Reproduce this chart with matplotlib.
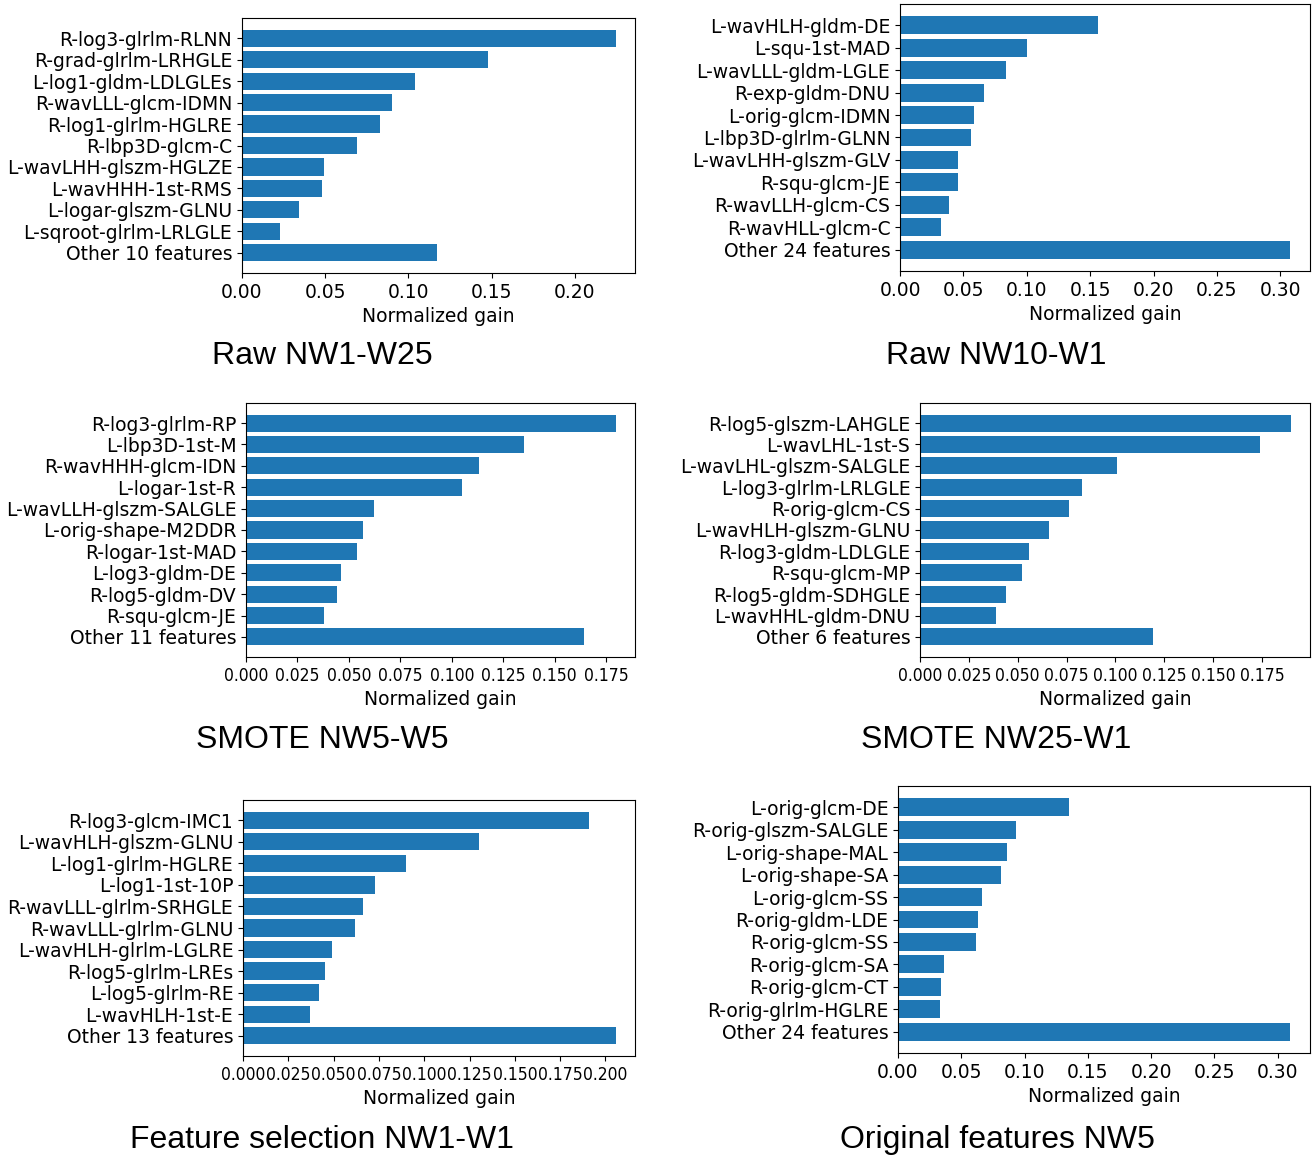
import matplotlib
matplotlib.use("Agg")
import matplotlib.pyplot as plt
from matplotlib import font_manager
from matplotlib.ticker import MultipleLocator

# feature importance (normalized gain), top-to-bottom order
raw1_labels = ["R-log3-glrlm-RLNN", "R-grad-glrlm-LRHGLE", "L-log1-gldm-LDLGLEs",
               "R-wavLLL-glcm-IDMN", "R-log1-glrlm-HGLRE", "R-lbp3D-glcm-C",
               "L-wavLHH-glszm-HGLZE", "L-wavHHH-1st-RMS", "L-logar-glszm-GLNU",
               "L-sqroot-glrlm-LRLGLE", "Other 10 features"]
raw1_gain = [0.225, 0.148, 0.104, 0.090, 0.083, 0.069, 0.049, 0.048, 0.034, 0.023, 0.117]

raw10_labels = ["L-wavHLH-gldm-DE", "L-squ-1st-MAD", "L-wavLLL-gldm-LGLE",
                "R-exp-gldm-DNU", "L-orig-glcm-IDMN", "L-lbp3D-glrlm-GLNN",
                "L-wavLHH-glszm-GLV", "R-squ-glcm-JE", "R-wavLLH-glcm-CS",
                "R-wavHLL-glcm-C", "Other 24 features"]
raw10_gain = [0.156, 0.100, 0.084, 0.066, 0.058, 0.056, 0.046, 0.046, 0.039, 0.032, 0.308]

smote5_labels = ["R-log3-glrlm-RP", "L-lbp3D-1st-M", "R-wavHHH-glcm-IDN",
                 "L-logar-1st-R", "L-wavLLH-glszm-SALGLE", "L-orig-shape-M2DDR",
                 "R-logar-1st-MAD", "L-log3-gldm-DE", "R-log5-gldm-DV",
                 "R-squ-glcm-JE", "Other 11 features"]
smote5_gain = [0.180, 0.135, 0.113, 0.105, 0.062, 0.057, 0.054, 0.046, 0.044, 0.038, 0.164]

smote25_labels = ["R-log5-glszm-LAHGLE", "L-wavLHL-1st-S", "L-wavLHL-glszm-SALGLE",
                  "L-log3-glrlm-LRLGLE", "R-orig-glcm-CS", "L-wavHLH-glszm-GLNU",
                  "R-log3-gldm-LDLGLE", "R-squ-glcm-MP", "R-log5-gldm-SDHGLE",
                  "L-wavHHL-gldm-DNU", "Other 6 features"]
smote25_gain = [0.190, 0.174, 0.101, 0.083, 0.076, 0.066, 0.056, 0.052, 0.044, 0.039, 0.119]

fs_labels = ["R-log3-glcm-IMC1", "L-wavHLH-glszm-GLNU", "L-log1-glrlm-HGLRE",
             "L-log1-1st-10P", "R-wavLLL-glrlm-SRHGLE", "R-wavLLL-glrlm-GLNU",
             "L-wavHLH-glrlm-LGLRE", "R-log5-glrlm-LREs", "L-log5-glrlm-RE",
             "L-wavHLH-1st-E", "Other 13 features"]
fs_gain = [0.191, 0.130, 0.090, 0.073, 0.066, 0.062, 0.049, 0.045, 0.042, 0.037, 0.206]

orig_labels = ["L-orig-glcm-DE", "R-orig-glszm-SALGLE", "L-orig-shape-MAL",
               "L-orig-shape-SA", "L-orig-glcm-SS", "R-orig-gldm-LDE",
               "R-orig-glcm-SS", "R-orig-glcm-SA", "R-orig-glcm-CT",
               "R-orig-glrlm-HGLRE", "Other 24 features"]
orig_gain = [0.135, 0.093, 0.086, 0.081, 0.066, 0.063, 0.062, 0.036, 0.034, 0.033, 0.310]

captions = ["Raw NW1-W25", "Raw NW10-W1", "SMOTE NW5-W5",
            "SMOTE NW25-W1", "Feature selection NW1-W1", "Original features NW5"]
tick_steps = [0.05, 0.05, 0.025, 0.025, 0.025, 0.05]

# condensed face for the crowded 0.025-step tick labels, if it is there
has_condensed = any(f.name == "DejaVu Sans" and f.stretch == "condensed"
                    for f in font_manager.fontManager.ttflist)

W, H = 1312, 1155
fig = plt.figure(figsize=(W / 100, H / 100), dpi=100)

# axes boxes in pixels: left, right, top, bottom
boxes = [(242, 635, 18, 273), (900, 1310, 4, 271),
         (246, 635, 403, 657), (920, 1310, 403, 657),
         (243, 635, 800, 1056), (898, 1310, 786, 1053)]
caption_pos = [(322, 356), (996, 356), (322, 740), (996, 740), (322, 1140), (997, 1140)]

panels = [(raw1_labels, raw1_gain), (raw10_labels, raw10_gain),
          (smote5_labels, smote5_gain), (smote25_labels, smote25_gain),
          (fs_labels, fs_gain), (orig_labels, orig_gain)]

for (labels, gain), (l, r, t, b), cap, (cx, cy), step in zip(
        panels, boxes, captions, caption_pos, tick_steps):
    ax = fig.add_axes([l / W, 1 - b / H, (r - l) / W, (b - t) / H])
    pos = list(range(len(labels)))
    ax.barh(pos, gain, color="#1f77b4")
    ax.set_yticks(pos)
    ax.set_yticklabels(labels)
    ax.invert_yaxis()
    ax.xaxis.set_major_locator(MultipleLocator(step))
    ax.tick_params(labelsize=13.5)
    if step < 0.05:
        for lab in ax.get_xticklabels():
            if has_condensed:
                lab.set_fontstretch("condensed")
                lab.set_fontsize(12.5)
            else:
                lab.set_fontsize(11.5)
    ax.set_xlabel("Normalized gain", fontsize=13.5)
    fig.text(cx / W, 1 - cy / H, cap, ha="center", va="center",
             fontsize=23, family="Liberation Sans")

plt.savefig("out.png", dpi=100)
